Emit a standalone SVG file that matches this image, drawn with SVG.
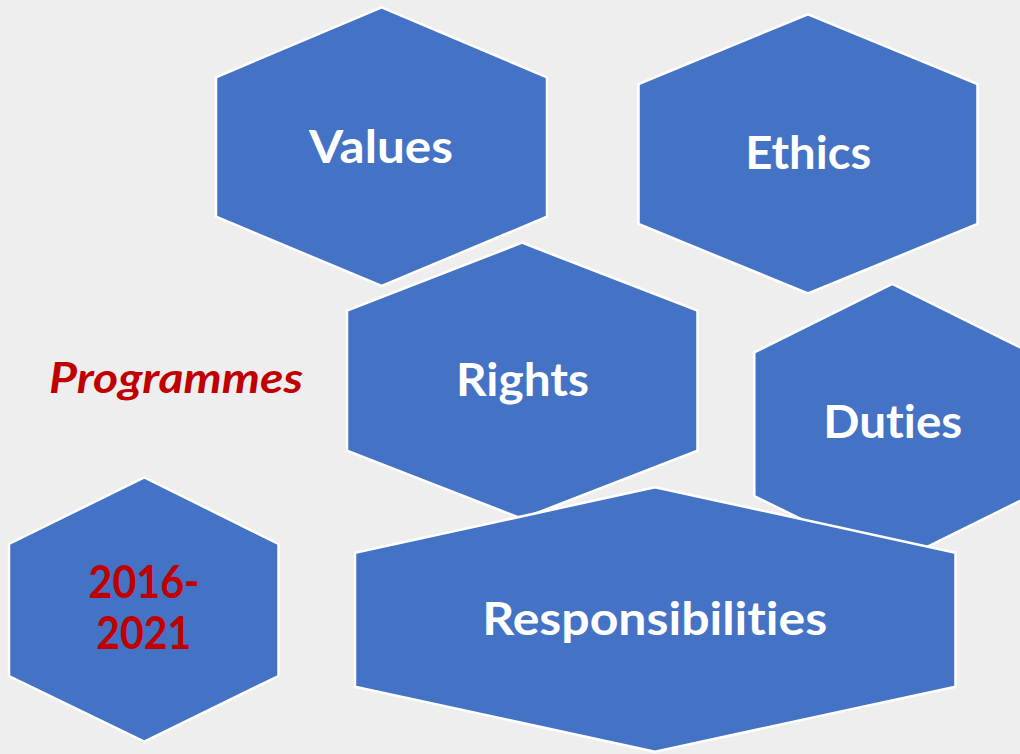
<svg xmlns="http://www.w3.org/2000/svg" width="1020" height="754" viewBox="0 0 1020 754">
<style>
.hex{fill:#4472C4;stroke:#FFFFFF;stroke-width:2.5;stroke-linejoin:miter}
text{font-variant-ligatures:none;font-feature-settings:"liga" 0,"clig" 0}
.lbl{font-family:Lato,"Open Sans","Liberation Sans",sans-serif;font-weight:bold;font-size:45px;fill:#FFFFFF;text-anchor:middle}
.red{fill:#C00000}
.prog{font-family:Lato,"Open Sans","Liberation Sans",sans-serif;font-weight:bold;font-style:italic;font-size:42px;fill:#C00000}
</style>
<rect width="1020" height="754" fill="#EEEEEE"/>
<g id="connectors"/>
<g id="values">
<polygon class="hex" points="381.7,7.3 547,77.3 547,216.7 381.7,286 216,216.7 216,77.3"/>
<text class="lbl" x="381" y="162.7" textLength="144" lengthAdjust="spacingAndGlyphs">Values</text>
</g>
<g id="ethics">
<polygon class="hex" points="808,14.3 977.5,84 977.5,224 808,293.5 638.5,224 638.5,84"/>
<text class="lbl" x="808.3" y="169" textLength="126" lengthAdjust="spacingAndGlyphs">Ethics</text>
</g>
<g id="rights">
<polygon class="hex" points="522,242.7 697.5,310.7 697.5,450.7 522,518.7 347,450.7 347,310.7"/>
<text class="lbl" x="522.5" y="395.7" textLength="133" lengthAdjust="spacingAndGlyphs">Rights</text>
</g>
<g id="duties">
<polygon class="hex" points="892.3,284 1030,352.3 1030,496 892.3,564 754.3,496 754.3,352.3"/>
<text class="lbl" x="892.8" y="438.3" textLength="139" lengthAdjust="spacingAndGlyphs">Duties</text>
</g>
<g id="years">
<polygon class="hex" points="144.3,477.3 278.5,544 278.5,676 144.3,741.7 9,676 9,544"/>
<text class="lbl red" x="144" y="598" textLength="111" lengthAdjust="spacingAndGlyphs">2016-</text>
<text class="lbl red" x="143.7" y="649" textLength="95" lengthAdjust="spacingAndGlyphs">2021</text>
</g>
<g id="responsibilities">
<polygon class="hex" points="655,487.3 955.5,552.7 955.5,686.7 655,751.7 355,686.7 355,552.7"/>
<text class="lbl" x="654.7" y="634.5" textLength="345" lengthAdjust="spacingAndGlyphs">Responsibilities</text>
</g>
<g id="programmes">
<text class="prog" x="49" y="393.3" textLength="254" lengthAdjust="spacingAndGlyphs">Programmes</text>
</g>
</svg>
